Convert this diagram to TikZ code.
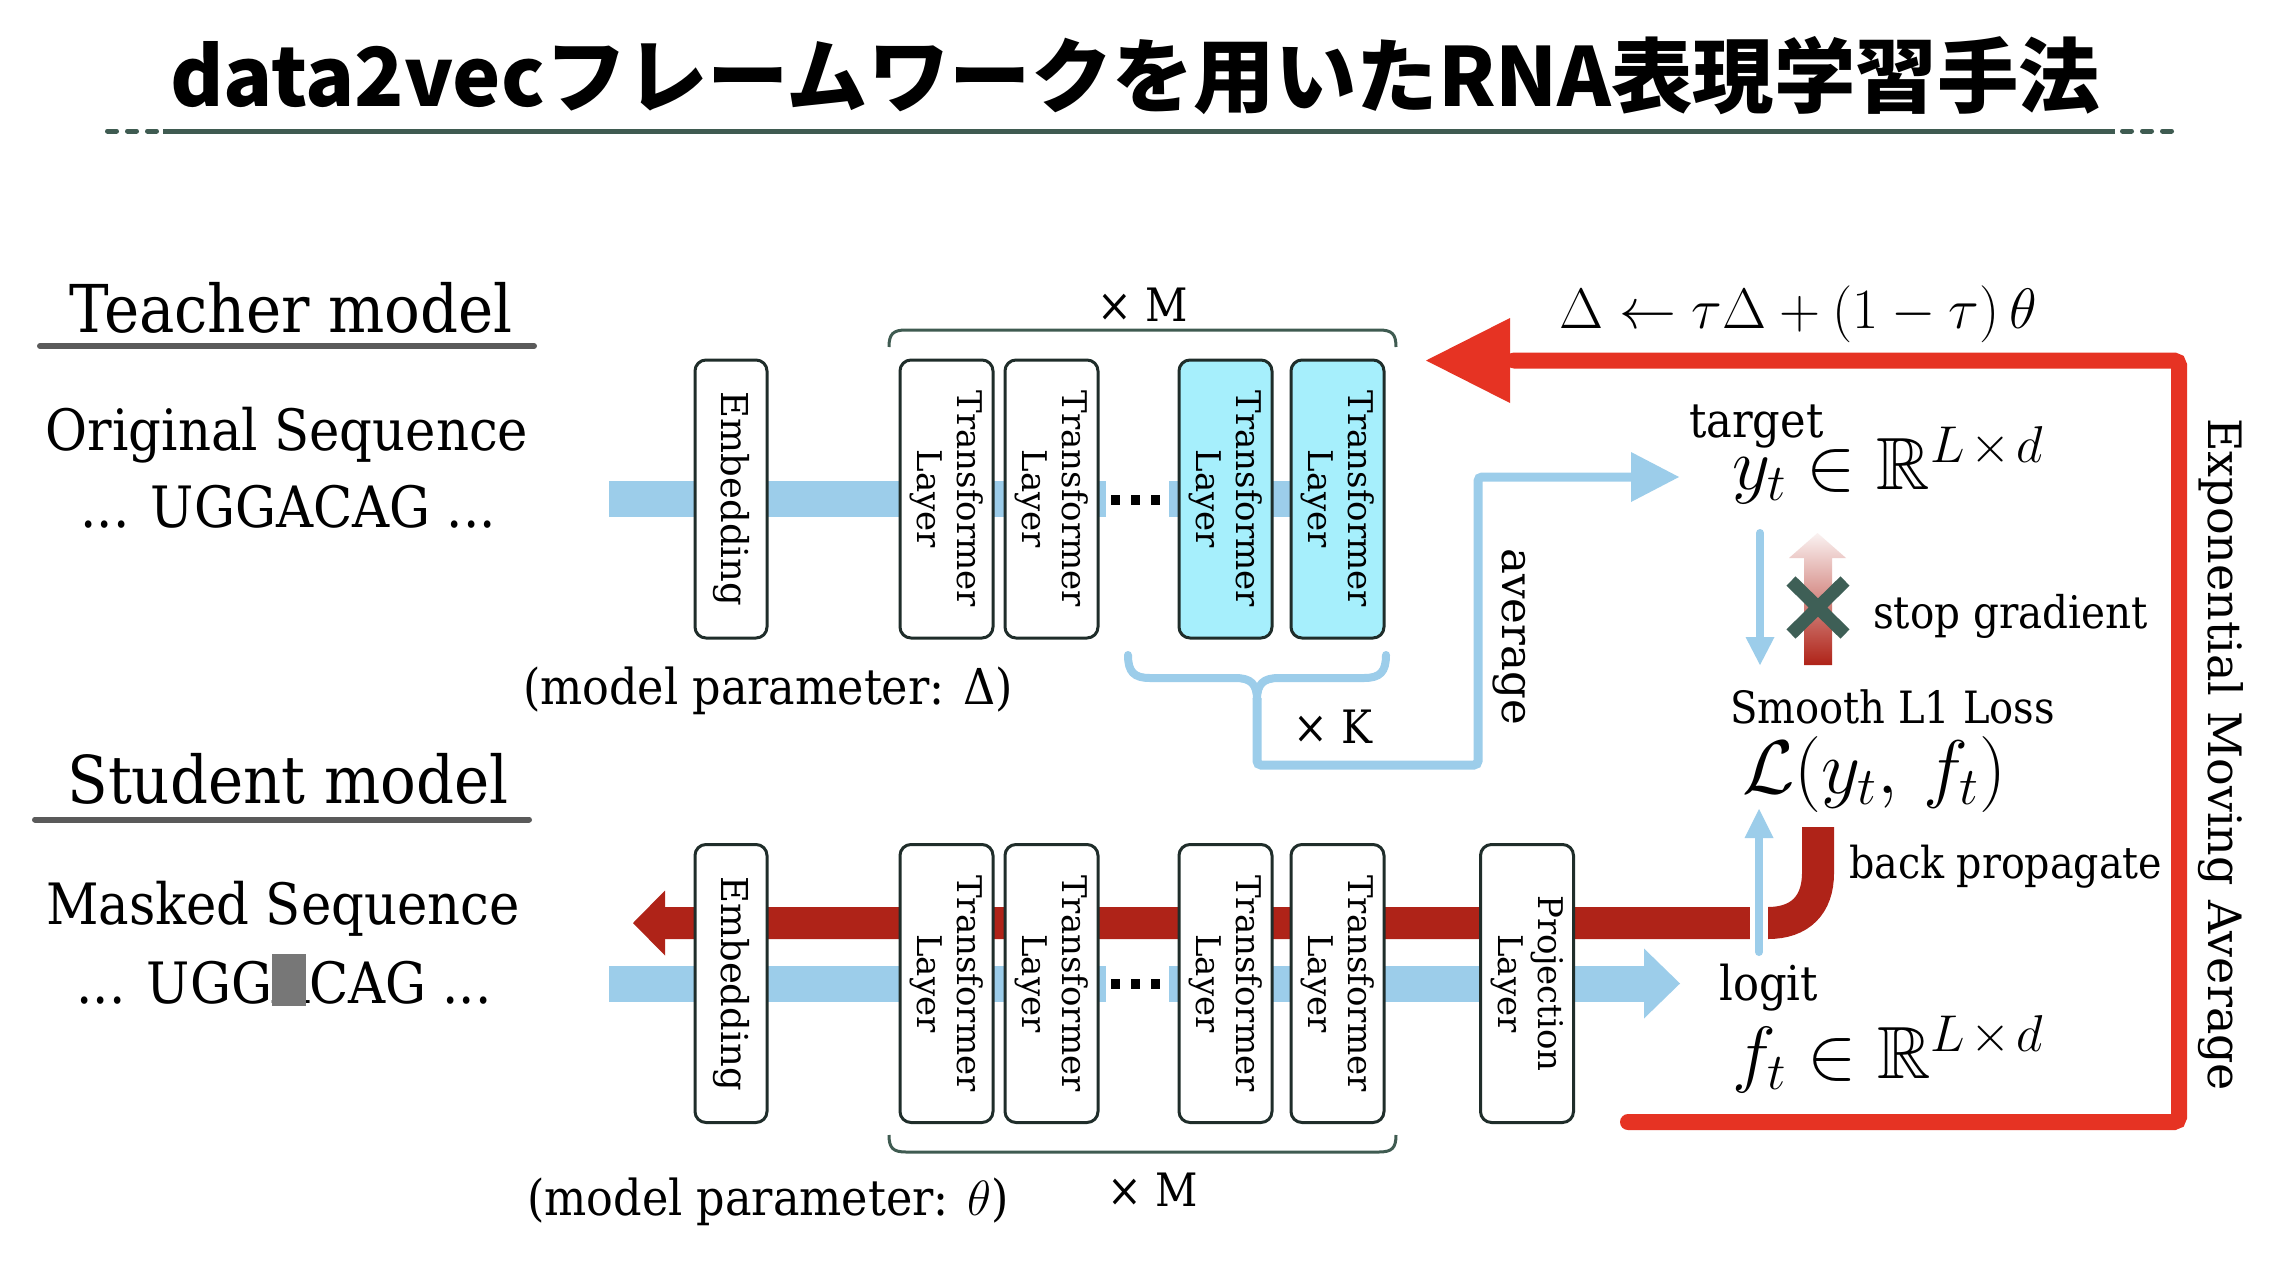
\RequirePackage{fix-cm}
\documentclass[tikz,border=0pt]{standalone}
\usepackage{amsmath,amssymb}
\usepackage[no-math]{fontspec}
\setmainfont{DejaVu Serif Condensed}
\newfontfamily\boxfont{DejaVu Serif}
\newfontfamily\cjkfont{Noto Sans CJK JP}
\usetikzlibrary{calc}
\definecolor{bandblue}{HTML}{9CCDEA}
\definecolor{cyanfill}{HTML}{A6EFFC}
\definecolor{boxline}{HTML}{1F2D2A}
\definecolor{bpred}{HTML}{AF2318}
\definecolor{emared}{HTML}{E63323}
\definecolor{xgreen}{HTML}{3E5F56}
\definecolor{rulegreen}{HTML}{3F5B51}
\definecolor{ulgray}{HTML}{5A5A5A}
\definecolor{maskgray}{HTML}{777777}
\newcommand{\fsz}[1]{\fontsize{#1}{#1}\selectfont}
\newsavebox{\abox}
\newcommand{\maskedA}{\sbox{\abox}{A}\rlap{\usebox{\abox}}\textcolor{maskgray}{\rule[-3pt]{0.92\wd\abox}{52pt}}\hspace{0.08\wd\abox}}
\tikzset{
  lbox/.style={draw=boxline, line width=3pt, rounded corners=11pt, fill=white,
    minimum width=278pt, minimum height=93pt, inner sep=0pt, align=center,
    rotate=-90, font=\boxfont\fontsize{34}{40}\selectfont},
  ebox/.style={lbox, minimum height=72pt, font=\boxfont\fontsize{37}{40}\selectfont},
  hbox/.style={lbox, fill=cyanfill},
  band/.style={bandblue, line width=36pt},
  lbl/.style={inner sep=0pt},
}
\begin{document}
\begin{tikzpicture}[x=1pt,y=-1pt]
\useasboundingbox (0,0) rectangle (2284,1266);
\fill[white] (0,0) rectangle (2284,1266);

% title
\node[anchor=base, inner sep=0pt, font=\cjkfont\bfseries\fsz{81.4}] (title) at (1135,106) {data2vecフレームワークを用いたRNA表現学習手法};
\coordinate (ruleL) at (163,131);
\coordinate (ruleR) at (2115,131);
\draw[rulegreen, line width=5pt] (ruleL) -- (ruleR);
\draw[rulegreen, line width=5pt, line cap=round, dash pattern=on 9pt off 11pt] (107.5,131) -- (160,131);
\draw[rulegreen, line width=5pt, line cap=round, dash pattern=on 9pt off 11pt] (2122.5,131) -- (2175,131);

% left labels
\node[lbl, anchor=base, font=\fsz{66}] (teacher) at (291,332) {Teacher model};
\draw[ulgray, line width=6pt, line cap=round] (40,346) -- (534,346);
\node[lbl, anchor=base, font=\fsz{57}] (origlbl) at (287,450) {Original Sequence};
\node[lbl, anchor=base, font=\fsz{57}] (origseq) at (288,527) {... UGGACAG ...};
\node[lbl, anchor=base, font=\fsz{66}] (student) at (288,803) {Student model};
\draw[ulgray, line width=6pt, line cap=round] (35,819.5) -- (529,819.5);
\node[lbl, anchor=base, font=\fsz{57}] (masklbl) at (283,924) {Masked Sequence};
\node[lbl, anchor=base, font=\fsz{57}] (maskseq) at (284,1003) {... UGG\maskedA CAG ...};

% teacher bands
\coordinate (tIn) at (609,499);
\coordinate (tDotL) at (1106,499);
\coordinate (tDotR) at (1169,499);
\coordinate (tEnd) at (1337.5,499);
\draw[band] (tIn) -- (tDotL);
\draw[band] (tDotR) -- (tEnd);

% student bands
\coordinate (bIn) at (609,983.5);
\coordinate (bDotL) at (1106,983.5);
\coordinate (bDotR) at (1169,983.5);
\coordinate (bHead) at (1644,983.5);
\coordinate (bTip) at (1680,983.5);
\draw[band] (bIn) -- (bDotL);
\draw[band] (bDotR) -- (bHead);
\fill[bandblue] ($(bHead)+(0,-35)$) -- (bTip) -- ($(bHead)+(0,35)$) -- cycle;

% back propagation band
\coordinate (lossBot) at (1818,827);
\coordinate (bpHead) at (665,923);
\coordinate (bpTip) at (633,923);
\draw[bpred, line width=32pt] (lossBot) -- (1818,873) .. controls (1818,905) and (1800,923) .. (1768,923) -- (bpHead);
\fill[bpred] ($(bpHead)+(0,-32.5)$) -- (bpTip) -- ($(bpHead)+(0,32.5)$) -- cycle;

% boxes
\node[ebox] (emb1) at (731,499) {Embedding};
\node[lbox] (t1) at (946.5,499) {Transformer\\Layer};
\node[lbox] (t2) at (1051.5,499) {Transformer\\Layer};
\node[hbox] (t3) at (1225.5,499) {Transformer\\Layer};
\node[hbox] (t4) at (1337.5,499) {Transformer\\Layer};
\node[ebox] (emb2) at (731,983.5) {Embedding};
\node[lbox] (s1) at (946.5,983.5) {Transformer\\Layer};
\node[lbox] (s2) at (1051.5,983.5) {Transformer\\Layer};
\node[lbox] (s3) at (1225.5,983.5) {Transformer\\Layer};
\node[lbox] (s4) at (1337.5,983.5) {Transformer\\Layer};
\node[lbox] (proj) at (1527,983.5) {Projection\\Layer};

% dots
\foreach \x in {1115.5,1135.5,1155.5} {
  \fill (\x-4.5,494.5) rectangle (\x+4.5,504.5);
  \fill (\x-4.5,978.5) rectangle (\x+4.5,988.5);
}

% M braces
\draw[rulegreen, line width=3pt] (889,347) .. controls (889,334) and (893,330) .. (906,330) -- (1379,330) .. controls (1392,330) and (1396,334) .. (1396,347);
\draw[rulegreen, line width=3pt] (889,1135) .. controls (889,1148) and (893,1152) .. (906,1152) -- (1379,1152) .. controls (1392,1152) and (1396,1148) .. (1396,1135);
\node[lbl, anchor=base, font=\fsz{46}] (mtop) at (1143,321) {× M};
\node[lbl, anchor=base, font=\fsz{46}] (mbot) at (1153,1206) {× M};
\node[lbl, anchor=base, font=\fsz{49.5}] (tparam) at (768,704) {(model parameter: Δ)};
\node[lbl, anchor=base, font=\fsz{49.5}] (sparam) at (768,1215) {(model parameter: $\theta$)};

% K brace and average connector
\draw[bandblue, line width=8pt, line cap=round] (1128,655) .. controls (1128,672) and (1134,678) .. (1150,678) -- (1235,678) .. controls (1251,678) and (1257,684) .. (1257,700);
\draw[bandblue, line width=8pt, line cap=round] (1386,655) .. controls (1386,672) and (1380,678) .. (1364,678) -- (1279,678) .. controls (1263,678) and (1257,684) .. (1257,700);
\node[lbl, anchor=base, font=\fsz{46}] (klbl) at (1333,743) {× K};
\coordinate (kTip) at (1257,698);
\coordinate (avgHead) at (1631,477);
\coordinate (avgTip) at (1679,477);
\draw[bandblue, line width=9pt, rounded corners=4pt] (kTip) -- (1257,765) -- (1478,765) -- (1478,477) -- (avgHead);
\fill[bandblue] ($(avgHead)+(0,-25)$) -- (avgTip) -- ($(avgHead)+(0,25)$) -- cycle;
\node[lbl, anchor=base west, rotate=-90, font=\boxfont\fsz{43.5}] (avglbl) at (1502,548) {average};

% EMA
\coordinate (emaStart) at (1628,1122);
\coordinate (emaHead) at (1510,360.5);
\coordinate (emaTip) at (1426,360.5);
\draw[emared, line width=16pt, line cap=round, rounded corners=5pt] (emaStart) -- (2179,1122) -- (2179,360.5) -- ($(emaHead)+(4,0)$);
\fill[emared] ($(emaHead)+(0,-42.5)$) -- (emaTip) -- ($(emaHead)+(0,42.5)$) -- cycle;
\node[lbl, anchor=base west, font=\fsz{57}] (emaeq) at (1559,328) {$\Delta \leftarrow \tau\Delta + (1-\tau)\,\theta$};
\node[lbl, anchor=base west, rotate=-90, font=\boxfont\fsz{46}] (emalbl) at (2208,418) {Exponential Moving Average};

% target side
\node[lbl, anchor=base west, font=\fsz{48}] (target) at (1689,437) {target};
\node[lbl, anchor=base west, font=\fsz{74}] (yt) at (1732,489) {$y_t \in \mathbb{R}^{L\mskip2mu\times\mskip2mu d}$};
\coordinate (ytBot) at (1760,533);
\coordinate (lossTop) at (1760,665);
\draw[bandblue, line width=8pt, line cap=round] (ytBot) -- (1760,640);
\fill[bandblue] (1745.5,637) -- (lossTop) -- (1774.5,637) -- cycle;
\shade[top color=bpred!6, bottom color=bpred] (1804,665) -- (1804,558) -- (1789,558) -- (1817.5,533) -- (1846,558) -- (1832,558) -- (1832,665) -- cycle;
\draw[xgreen, line width=13pt] (1791,581) -- (1845,634) (1845,581) -- (1791,634);
\node[lbl, anchor=base west, font=\fsz{45}] (stopg) at (1873,628) {stop gradient};
\node[lbl, anchor=base west, font=\fsz{44.5}] (losslbl) at (1730,723) {Smooth L1 Loss};
\node[lbl, anchor=base west, font=\fsz{76}] (loss) at (1742,793) {$\mathcal{L}(y_t,\, f_t)$};

% logit side
\coordinate (logitTop) at (1759,952);
\coordinate (lossArr) at (1759,809);
\draw[white, line width=18pt] (1759,945) -- (1759,898);
\draw[bandblue, line width=8pt, line cap=round] (logitTop) -- (1759,836);
\fill[bandblue] (1744.5,838) -- (lossArr) -- (1773.5,838) -- cycle;
\node[lbl, anchor=base west, font=\fsz{44}] (bplbl) at (1849,878) {back propagate};
\node[lbl, anchor=base west, font=\fsz{48}] (logit) at (1719,1000) {logit};
\node[lbl, anchor=base west, font=\fsz{74}] (ft) at (1732,1078) {$f_t \in \mathbb{R}^{L\mskip2mu\times\mskip2mu d}$};
\end{tikzpicture}
\end{document}
